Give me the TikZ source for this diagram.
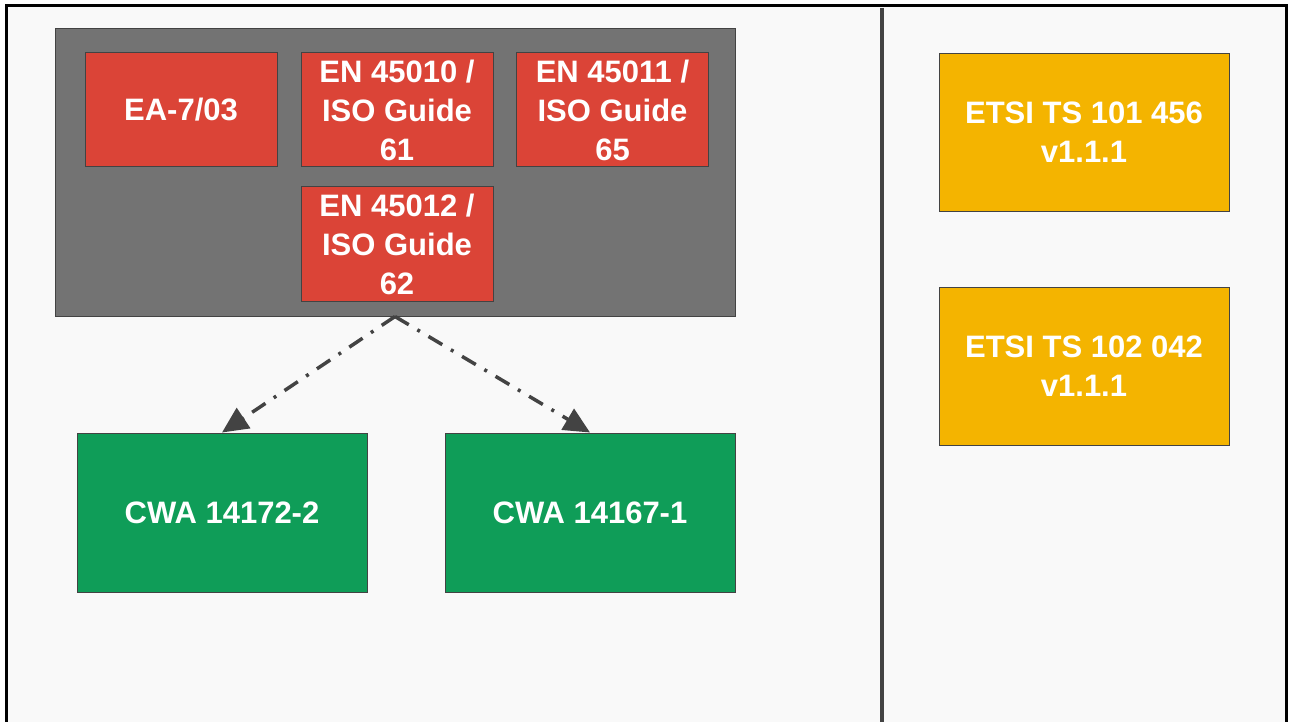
\documentclass[tikz,border=0pt]{standalone}
\usepackage{fontspec}
\setmainfont{Liberation Sans}
\usetikzlibrary{arrows.meta}
\definecolor{bgc}{HTML}{F9F9F9}
\definecolor{edgec}{HTML}{434343}
\definecolor{grpc}{HTML}{737373}
\definecolor{redc}{HTML}{DB4437}
\definecolor{greenc}{HTML}{0F9D58}
\definecolor{yellowc}{HTML}{F4B400}
\tikzset{
  box/.style={draw=edgec, line width=1pt, rectangle, inner sep=0pt, align=center,
    text=white, font=\bfseries\fontsize{31}{39}\selectfont},
  redbox/.style={box, fill=redc, minimum width=192pt, minimum height=114pt},
  greenbox/.style={box, fill=greenc, minimum width=290pt, minimum height=159pt},
  yellowbox/.style={box, fill=yellowc, minimum width=290pt, minimum height=158pt},
  flow/.style={draw=edgec, line width=3.5pt, dash pattern=on 16pt off 10pt on 3pt off 10pt,
    -{Triangle[length=26pt,width=24pt]}}
}
\begin{document}
\begin{tikzpicture}[x=1pt,y=-1pt]
\useasboundingbox (0,0) rectangle (1293,722);
\fill[white] (0,0) rectangle (1293,722);
\fill[bgc] (6,6) rectangle (1286,722);
\draw[black, line width=3pt] (6,722) -- (6,6) -- (1286,6) -- (1286,722);
\draw[edgec, line width=4pt] (881.5,8) -- (881.5,722);
\node[draw=edgec, line width=1pt, fill=grpc, rectangle, inner sep=0pt,
  minimum width=680pt, minimum height=287pt] (grp) at (395,172.5) {};
\node[redbox] (ea) at (181,110) {EA-7/03};
\node[redbox] (en10) at (397,110) {EN 45010 /\\ISO Guide\\61};
\node[redbox] (en11) at (612.5,110) {EN 45011 /\\ISO Guide\\65};
\node[redbox] (en12) at (397,244) {EN 45012 /\\ISO Guide\\62};
\node[greenbox] (cwa2) at (222,512.5) {CWA 14172-2};
\node[greenbox] (cwa1) at (590,512.5) {CWA 14167-1};
\node[yellowbox] (ts1) at (1084,132.5) {ETSI TS 101 456\\v1.1.1};
\node[yellowbox] (ts2) at (1084,366) {ETSI TS 102 042\\v1.1.1};
\draw[flow] (grp.south) -- (cwa2.north);
\draw[flow] (grp.south) -- (cwa1.north);
\end{tikzpicture}
\end{document}
